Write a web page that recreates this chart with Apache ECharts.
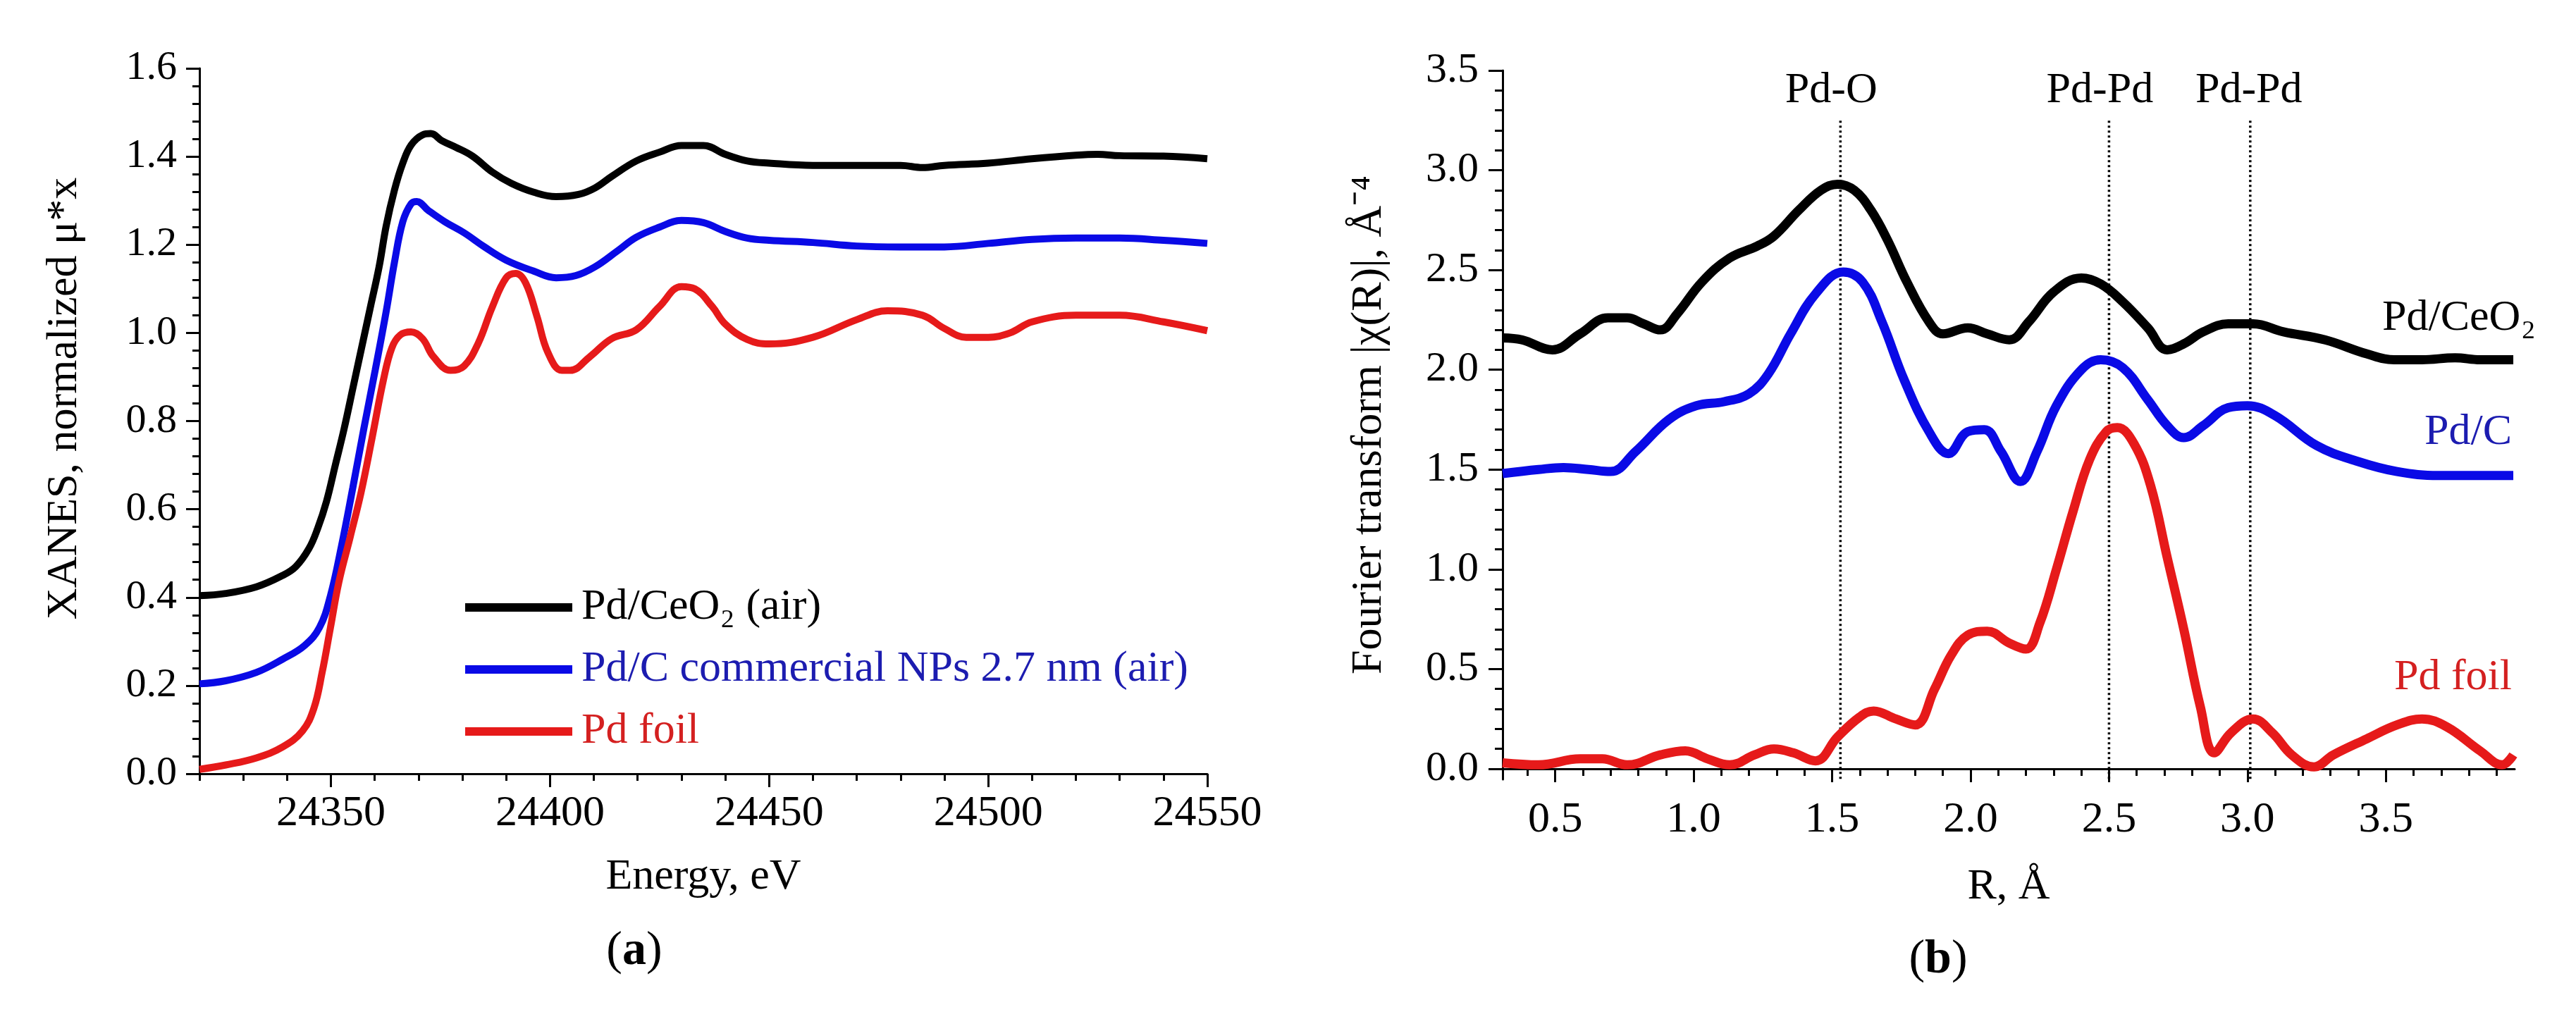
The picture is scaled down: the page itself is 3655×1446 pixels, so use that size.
<!DOCTYPE html>
<html><head><meta charset="utf-8">
<script src="https://cdn.jsdelivr.net/npm/echarts@6/dist/echarts.min.js"></script>
<style>html,body{margin:0;padding:0;background:#fff}#c{width:3655px;height:1446px}</style>
</head><body><div id="c"></div>
<script>
// ---------- Panel (a): XANES ----------
const aCeO2E = [24320,24326,24333,24339,24342,24345,24347,24349,24351,24353,24355,24357,24359,24361,24362.6,24364.5,24366.4,24368.3,24370.9,24372.8,24375.3,24378.5,24382.3,24386.8,24391.2,24396.3,24401.4,24406.5,24410.3,24414.1,24419.7,24425,24430,24435,24440,24445,24450,24460,24470,24480,24485,24490,24500,24510,24520,24525,24530,24540,24550];
const aCeO2V = [0.404,0.409,0.424,0.450,0.470,0.511,0.557,0.618,0.700,0.782,0.874,0.966,1.058,1.150,1.242,1.324,1.385,1.426,1.449,1.452,1.436,1.421,1.401,1.365,1.339,1.319,1.309,1.314,1.329,1.355,1.390,1.41,1.425,1.425,1.405,1.39,1.385,1.38,1.38,1.38,1.375,1.38,1.385,1.395,1.403,1.405,1.402,1.401,1.395];
const aPdCE = [24320,24326,24333,24339,24344,24347.4,24349.9,24352.4,24355,24357.5,24360.1,24362.6,24364.5,24366.4,24368.3,24369.6,24372.2,24376,24380.4,24384.9,24390,24396.3,24401.4,24405.9,24410.3,24415.4,24419.7,24425,24430,24435,24440,24445,24450,24460,24470,24480,24490,24500,24510,24520,24530,24540,24550];
const aPdCV = [0.204,0.211,0.230,0.260,0.291,0.332,0.404,0.516,0.649,0.782,0.915,1.048,1.160,1.252,1.293,1.298,1.278,1.252,1.227,1.196,1.165,1.140,1.125,1.130,1.150,1.186,1.217,1.24,1.255,1.25,1.23,1.215,1.21,1.205,1.197,1.195,1.195,1.203,1.212,1.215,1.215,1.21,1.203];
const aFoilE = [24320,24326,24333,24339,24343.5,24346.1,24348,24349.9,24351.8,24354.4,24356.9,24359.4,24362,24363.9,24365.8,24368.3,24370.9,24373.4,24377.3,24380.4,24383.6,24386.8,24390,24392.2,24394.4,24397,24399.5,24402.7,24404.6,24409.1,24414.1,24419.7,24425,24430,24433,24437,24440,24445,24450,24460,24470,24477,24485,24490,24495,24500,24505,24510,24520,24530,24540,24550];
const aFoilV = [0.010,0.020,0.036,0.061,0.097,0.148,0.230,0.332,0.434,0.537,0.639,0.762,0.894,0.966,0.995,1.002,0.987,0.946,0.915,0.925,0.976,1.058,1.125,1.135,1.114,1.038,0.956,0.915,0.915,0.946,0.987,1.007,1.06,1.105,1.10,1.06,1.02,0.985,0.975,0.99,1.03,1.05,1.04,1.01,0.99,0.99,1.00,1.025,1.04,1.04,1.025,1.005];
const aNames = ['Pd/CeO\u2082 (air)', 'Pd/C commercial NPs 2.7 nm (air)', 'Pd foil'];
const aXTicks = [24350,24400,24450,24500,24550];
const aYTicks = [0.0,0.2,0.4,0.6,0.8,1.0,1.2,1.4,1.6];

// ---------- Panel (b): Fourier transform ----------
const bCeO2R = [0.31,0.38,0.49,0.59,0.69,0.76,0.82,0.88,0.94,1.03,1.13,1.23,1.29,1.38,1.46,1.52,1.58,1.64,1.70,1.77,1.85,1.90,1.99,2.06,2.14,2.21,2.30,2.40,2.47,2.55,2.64,2.71,2.77,2.84,2.93,3.02,3.13,3.28,3.43,3.53,3.63,3.75,3.84,3.96];
const bCeO2V = [2.16,2.15,2.10,2.18,2.26,2.26,2.23,2.20,2.28,2.44,2.56,2.62,2.67,2.80,2.90,2.93,2.90,2.80,2.65,2.44,2.24,2.18,2.21,2.18,2.15,2.24,2.39,2.46,2.43,2.34,2.21,2.10,2.13,2.19,2.23,2.23,2.19,2.15,2.08,2.05,2.05,2.06,2.05,2.05];
const bPdCR = [0.31,0.44,0.53,0.62,0.70,0.79,0.91,1.01,1.11,1.20,1.27,1.35,1.44,1.54,1.61,1.68,1.76,1.85,1.92,1.99,2.05,2.11,2.18,2.24,2.31,2.40,2.47,2.55,2.64,2.71,2.77,2.84,2.93,3.00,3.10,3.25,3.40,3.54,3.69,3.84,3.96];
const bPdCV = [1.48,1.50,1.51,1.50,1.49,1.59,1.75,1.82,1.84,1.88,1.98,2.18,2.38,2.49,2.44,2.24,1.95,1.69,1.58,1.69,1.70,1.59,1.44,1.59,1.82,2.00,2.05,2.01,1.85,1.72,1.66,1.72,1.81,1.82,1.77,1.62,1.54,1.49,1.47,1.47,1.47];
const bFoilR = [0.31,0.44,0.59,0.67,0.76,0.88,0.97,1.05,1.13,1.22,1.29,1.36,1.44,1.52,1.60,1.65,1.73,1.80,1.87,1.93,1.99,2.06,2.14,2.20,2.25,2.31,2.37,2.43,2.49,2.53,2.59,2.65,2.71,2.77,2.83,2.88,2.94,3.02,3.09,3.16,3.24,3.31,3.43,3.54,3.63,3.72,3.84,3.92,3.96];
const bFoilV = [0.03,0.02,0.05,0.05,0.02,0.07,0.09,0.05,0.02,0.07,0.10,0.08,0.04,0.16,0.26,0.29,0.25,0.22,0.40,0.57,0.67,0.69,0.63,0.60,0.73,1.00,1.29,1.55,1.69,1.71,1.63,1.42,1.06,0.70,0.31,0.08,0.18,0.25,0.18,0.07,0.01,0.07,0.15,0.22,0.25,0.21,0.09,0.02,0.07];
const bNames = ['Pd/CeO\u2082', 'Pd/C', 'Pd foil'];
const bPeakR = [1.53, 2.50, 3.01];
const bPeakNames = ['Pd-O', 'Pd-Pd', 'Pd-Pd'];
const bPeakTop = 3.26;
const bXTicks = [0.5,1.0,1.5,2.0,2.5,3.0,3.5];
const bYTicks = [0.0,0.5,1.0,1.5,2.0,2.5,3.0,3.5];

// ---------- helpers ----------
const FONT = 'Liberation Serif';
const BLACK = '#000000', BLUE = '#0a0ae6', RED = '#e61a1a';
const BLUE_T = '#1c1cb0', RED_T = '#d42020';
const zip = (xs, ys) => xs.map((x, i) => [x, ys[i]]);
function range(a, b, step) { const out = []; const n = Math.round((b - a) / step); for (let i = 0; i <= n; i++) out.push(+(a + i * step).toFixed(4)); return out; }
const aXMinor = range(24320, 24550, 10);
const aYMinor = range(0, 1.6, 0.04);
const bXMinor = range(0.4, 3.9, 0.1);
const bYMinor = range(0, 3.5, 0.1);

const txt = (size, extra) => Object.assign({ color: '#000', fontFamily: FONT, fontSize: size }, extra || {});
const tickStyle = { color: '#000', width: 3 };
function mainAxis(opts) {
  return Object.assign({
    type: 'value', splitLine: { show: false },
    axisLine: { show: true, lineStyle: { color: '#000', width: 3 } },
    nameTextStyle: txt(62)
  }, opts);
}
function minorAxis(opts) {
  return Object.assign({
    type: 'value', splitLine: { show: false }, axisLine: { show: false },
    axisLabel: { show: false }
  }, opts);
}

const chart = echarts.init(document.getElementById('c'), null, { renderer: 'canvas' });

const series = [
  { name: aNames[0], type: 'line', xAxisIndex: 0, yAxisIndex: 0, data: zip(aCeO2E, aCeO2V), smooth: 0.4, symbol: 'none', lineStyle: { color: BLACK, width: 10 }, itemStyle: { color: BLACK } },
  { name: aNames[1], type: 'line', xAxisIndex: 0, yAxisIndex: 0, data: zip(aPdCE, aPdCV), smooth: 0.4, symbol: 'none', lineStyle: { color: BLUE, width: 10 }, itemStyle: { color: BLUE } },
  { name: aNames[2], type: 'line', xAxisIndex: 0, yAxisIndex: 0, data: zip(aFoilE, aFoilV), smooth: 0.4, symbol: 'none', lineStyle: { color: RED, width: 10 }, itemStyle: { color: RED } },
  { name: 'FT ' + bNames[0], type: 'line', xAxisIndex: 2, yAxisIndex: 2, data: zip(bCeO2R, bCeO2V), smooth: 0.4, symbol: 'none', lineStyle: { color: BLACK, width: 13 }, z: 3 },
  { name: 'FT ' + bNames[1], type: 'line', xAxisIndex: 2, yAxisIndex: 2, data: zip(bPdCR, bPdCV), smooth: 0.4, symbol: 'none', lineStyle: { color: BLUE, width: 13 }, z: 3 },
  { name: 'FT ' + bNames[2], type: 'line', xAxisIndex: 2, yAxisIndex: 2, data: zip(bFoilR, bFoilV), smooth: 0.4, symbol: 'none', lineStyle: { color: RED, width: 13 }, z: 3 }
];
bPeakR.forEach((r, i) => {
  series.push({
    name: 'peak' + i, type: 'line', xAxisIndex: 2, yAxisIndex: 2, z: 2,
    symbol: 'circle', symbolSize: 0, silent: true,
    lineStyle: { color: '#000', width: 3.5, type: [3, 4] },
    data: [
      { value: [r, -0.05] },
      { value: [r, bPeakTop], label: txt(62, { show: true, position: 'top', distance: 8, offset: [i < 2 ? -13 : -2, 0], formatter: bPeakNames[i] }) }
    ]
  });
});

const option = {
  backgroundColor: '#fff',
  animation: false,
  textStyle: { fontFamily: FONT },
  grid: [
    { left: 283, top: 97, width: 1430, height: 1001 },
    { left: 2132, top: 100, width: 1436, height: 1006 }
  ],
  xAxis: [
    mainAxis({ gridIndex: 0, position: 'bottom', min: 24320, max: 24550, name: 'Energy, eV', nameLocation: 'middle', nameGap: 116,
      axisTick: { show: true, length: 19, customValues: aXTicks, lineStyle: tickStyle },
      axisLabel: txt(62, { margin: 26, customValues: aXTicks, formatter: v => String(Math.round(v)) }) }),
    minorAxis({ gridIndex: 0, position: 'bottom', min: 24320, max: 24550, axisTick: { show: true, length: 10, customValues: aXMinor, lineStyle: tickStyle } }),
    mainAxis({ gridIndex: 1, position: 'bottom', min: 0.31, max: 3.965, name: 'R, \u00c5', nameLocation: 'middle', nameGap: 122,
      axisTick: { show: true, length: 19, customValues: bXTicks, lineStyle: tickStyle },
      axisLabel: txt(62, { margin: 27, customValues: bXTicks, formatter: v => v.toFixed(1) }) }),
    minorAxis({ gridIndex: 1, position: 'bottom', min: 0.31, max: 3.965, axisTick: { show: true, length: 10, customValues: bXMinor, lineStyle: tickStyle } })
  ],
  yAxis: [
    mainAxis({ gridIndex: 0, position: 'left', min: 0, max: 1.6, name: 'XANES, normalized \u03bc*x', nameLocation: 'middle', nameGap: 160,
      nameTextStyle: txt(62, { padding: [0, 0, 0, 64] }),
      axisTick: { show: true, length: 19, customValues: aYTicks, lineStyle: tickStyle },
      axisLabel: txt(58, { margin: 32, customValues: aYTicks, formatter: v => v.toFixed(1) }) }),
    minorAxis({ gridIndex: 0, position: 'left', min: 0, max: 1.6, axisTick: { show: true, length: 10, customValues: aYMinor, lineStyle: tickStyle } }),
    mainAxis({ gridIndex: 1, position: 'left', min: -0.053, max: 3.5, name: 'Fourier transform |\u03c7(R)|, \u00c5\u207b\u2074', nameLocation: 'middle', nameGap: 158,
      axisTick: { show: true, length: 20, customValues: bYTicks, lineStyle: tickStyle },
      axisLabel: txt(60, { margin: 34, customValues: bYTicks, formatter: v => v.toFixed(1) }) }),
    minorAxis({ gridIndex: 1, position: 'left', min: -0.053, max: 3.5, axisTick: { show: true, length: 11, customValues: bYMinor, lineStyle: tickStyle } })
  ],
  legend: {
    data: aNames, orient: 'vertical', left: 655, top: 822, itemWidth: 152, itemHeight: 12, itemGap: 18,
    icon: 'rect',
    textStyle: { fontFamily: FONT, fontSize: 62, lineHeight: 70, padding: [0, 0, 0, 8],
      rich: { k: txt(62, { color: BLACK }), u: txt(62, { color: BLUE_T }), r: txt(62, { color: RED_T }) } },
    formatter: name => { const i = aNames.indexOf(name); return '{' + ['k', 'u', 'r'][i] + '|' + name + '}'; }
  },
  graphic: [
    { type: 'text', x: 3598, y: 452, style: { text: bNames[0], fill: BLACK, fontSize: 62, fontFamily: FONT, align: 'right', verticalAlign: 'middle' } },
    { type: 'text', x: 3564, y: 614, style: { text: bNames[1], fill: BLUE_T, fontSize: 62, fontFamily: FONT, align: 'right', verticalAlign: 'middle' } },
    { type: 'text', x: 3564, y: 962, style: { text: bNames[2], fill: RED_T, fontSize: 62, fontFamily: FONT, align: 'right', verticalAlign: 'middle' } },
    { type: 'text', x: 900, y: 1350, style: { text: '({bb|a})', fill: '#000', fontSize: 68, fontFamily: FONT, align: 'center', verticalAlign: 'middle', rich: { bb: { fontWeight: 'bold', fontSize: 68, fontFamily: FONT } } } },
    { type: 'text', x: 2750, y: 1362, style: { text: '({bb|b})', fill: '#000', fontSize: 68, fontFamily: FONT, align: 'center', verticalAlign: 'middle', rich: { bb: { fontWeight: 'bold', fontSize: 68, fontFamily: FONT } } } }
  ],
  series: series
};
chart.setOption(option);
</script></body></html>
